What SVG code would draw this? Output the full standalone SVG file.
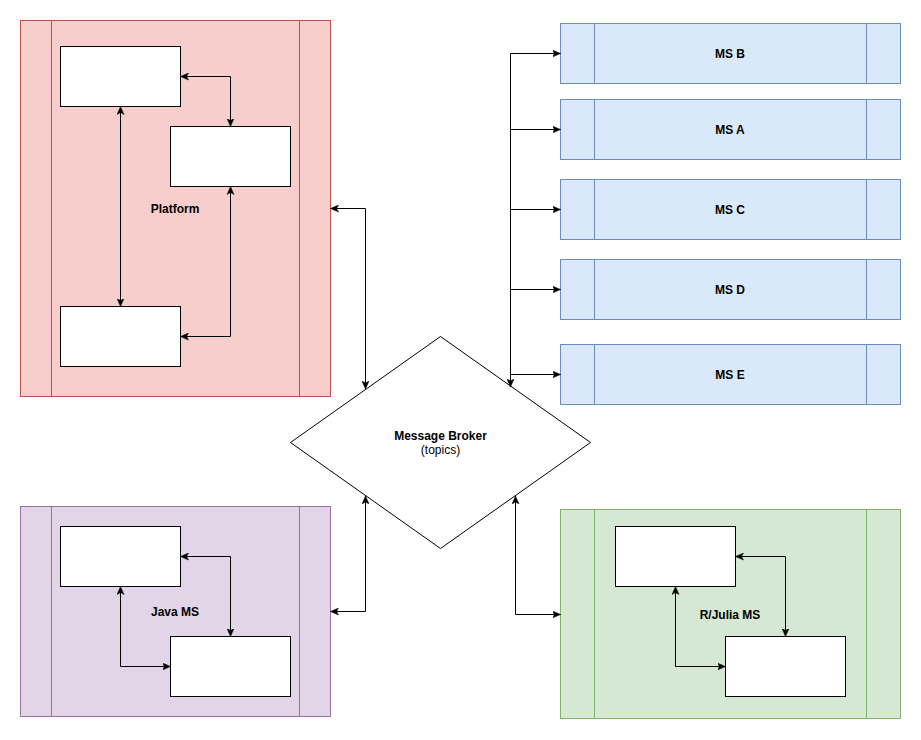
<svg xmlns="http://www.w3.org/2000/svg" width="921" height="740" viewBox="0 0 921 740">
<defs>
<marker id="arr" viewBox="0 0 8 8" refX="8" refY="4" markerWidth="8" markerHeight="8" markerUnits="userSpaceOnUse" orient="auto-start-reverse">
<path d="M0,0.5 L8,4 L0,7.5 L2,4 Z" fill="#000" stroke="#000" stroke-width="0.5"/>
</marker>
</defs>
<style>
.lbl{font-family:"Liberation Sans",Arial,sans-serif;font-size:12px;font-weight:bold;fill:#000;text-anchor:middle}
.sub{font-family:"Liberation Sans",Arial,sans-serif;font-size:12px;fill:#000;text-anchor:middle}
.box{fill:#fff;stroke:#000;stroke-width:1}
.red{fill:#f8cecc;stroke:#b85450}
.pur{fill:#e1d5e7;stroke:#9673a6}
.grn{fill:#d5e8d4;stroke:#82b366}
.blu{fill:#dae8fc;stroke:#6c8ebf}
.c{fill:none;stroke:#000;stroke-width:1;marker-end:url(#arr)}
.cb{fill:none;stroke:#000;stroke-width:1;marker-start:url(#arr);marker-end:url(#arr)}
</style>
<g id="platform">
<rect class="red" x="20.5" y="20.5" width="310" height="376"/>
<line class="red" x1="51.5" y1="20.5" x2="51.5" y2="396.5"/>
<line class="red" x1="299.5" y1="20.5" x2="299.5" y2="396.5"/>
<text class="lbl" x="175" y="213">Platform</text>
</g>
<g id="p-box1"><rect class="box" x="60.5" y="46.5" width="120" height="60"/></g>
<g id="p-box2"><rect class="box" x="170.5" y="126.5" width="120" height="60"/></g>
<g id="p-box3"><rect class="box" x="60.5" y="306.5" width="120" height="60"/></g>
<g id="java">
<rect class="pur" x="20.5" y="506.5" width="310" height="210"/>
<line class="pur" x1="51.5" y1="506.5" x2="51.5" y2="716.5"/>
<line class="pur" x1="299.5" y1="506.5" x2="299.5" y2="716.5"/>
<text class="lbl" x="175" y="616">Java MS</text>
</g>
<g id="j-box1"><rect class="box" x="60.5" y="526.5" width="120" height="60"/></g>
<g id="j-box2"><rect class="box" x="170.5" y="636.5" width="120" height="60"/></g>
<g id="rjulia">
<rect class="grn" x="560.5" y="509.5" width="340" height="209"/>
<line class="grn" x1="594.5" y1="509.5" x2="594.5" y2="718.5"/>
<line class="grn" x1="866.5" y1="509.5" x2="866.5" y2="718.5"/>
<text class="lbl" x="730" y="619">R/Julia MS</text>
</g>
<g id="r-box1"><rect class="box" x="615.5" y="526.5" width="120" height="60"/></g>
<g id="r-box2"><rect class="box" x="725.5" y="636.5" width="120" height="60"/></g>
<g id="msb">
<rect class="blu" x="560.5" y="23.5" width="340" height="60"/>
<line class="blu" x1="594.5" y1="23.5" x2="594.5" y2="83.5"/>
<line class="blu" x1="866.5" y1="23.5" x2="866.5" y2="83.5"/>
<text class="lbl" x="730" y="58">MS B</text>
</g>
<g id="msa">
<rect class="blu" x="560.5" y="99.5" width="340" height="60"/>
<line class="blu" x1="594.5" y1="99.5" x2="594.5" y2="159.5"/>
<line class="blu" x1="866.5" y1="99.5" x2="866.5" y2="159.5"/>
<text class="lbl" x="730" y="134">MS A</text>
</g>
<g id="msc">
<rect class="blu" x="560.5" y="179.5" width="340" height="60"/>
<line class="blu" x1="594.5" y1="179.5" x2="594.5" y2="239.5"/>
<line class="blu" x1="866.5" y1="179.5" x2="866.5" y2="239.5"/>
<text class="lbl" x="730" y="214">MS C</text>
</g>
<g id="msd">
<rect class="blu" x="560.5" y="259.5" width="340" height="60"/>
<line class="blu" x1="594.5" y1="259.5" x2="594.5" y2="319.5"/>
<line class="blu" x1="866.5" y1="259.5" x2="866.5" y2="319.5"/>
<text class="lbl" x="730" y="294">MS D</text>
</g>
<g id="mse">
<rect class="blu" x="560.5" y="344.5" width="340" height="60"/>
<line class="blu" x1="594.5" y1="344.5" x2="594.5" y2="404.5"/>
<line class="blu" x1="866.5" y1="344.5" x2="866.5" y2="404.5"/>
<text class="lbl" x="730" y="379">MS E</text>
</g>
<g id="broker">
<polygon points="290.5,442.5 440.5,336.5 590.5,442.5 440.5,548.5" fill="#fff" stroke="#000" stroke-width="1"/>
<text class="lbl" x="440.5" y="440">Message Broker</text>
<text class="sub" x="440.5" y="454">(topics)</text>
</g>
<g id="connectors">
<path class="cb" d="M180.5,76.5 H230.5 V126.5"/>
<path class="cb" d="M120.5,106.5 V306.5"/>
<path class="cb" d="M230.5,186.5 V336.5 H180.5"/>
<path class="cb" d="M180.5,556.5 H230.5 V636.5"/>
<path class="cb" d="M120.5,586.5 V666.5 H170.5"/>
<path class="cb" d="M735.5,556.5 H785.5 V636.5"/>
<path class="cb" d="M675.5,586.5 V666.5 H725.5"/>
<path class="cb" d="M330.5,208.5 H365.5 V389"/>
<path class="cb" d="M365.5,496 V611.5 H330.5"/>
<path class="cb" d="M515.5,496 V614.5 H560.5"/>
<path class="cb" d="M510.5,387 V53.5 H560.5"/>
<path class="c" d="M510.5,129.5 H560.5"/>
<path class="c" d="M510.5,209.5 H560.5"/>
<path class="c" d="M510.5,289.5 H560.5"/>
<path class="c" d="M510.5,374.5 H560.5"/>
</g>
</svg>
